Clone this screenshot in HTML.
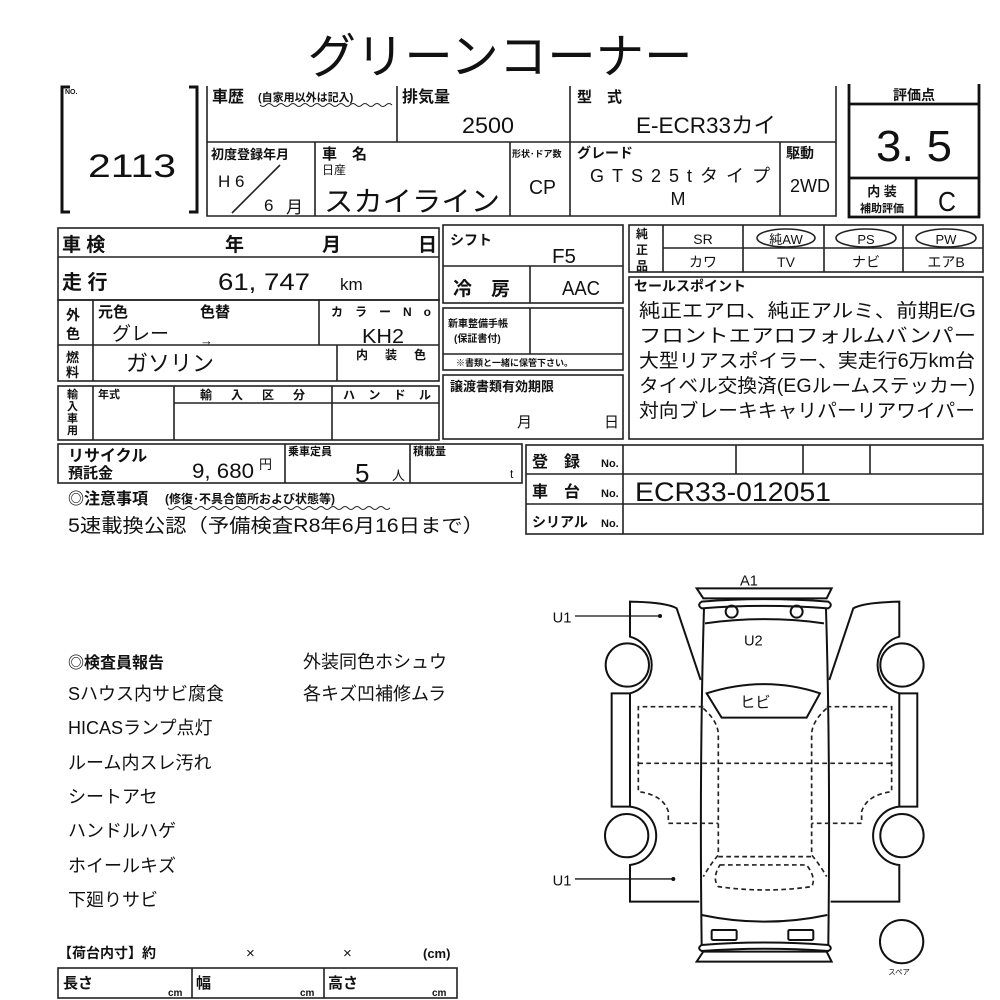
<!DOCTYPE html>
<html><head><meta charset="utf-8"><style>
html,body{margin:0;padding:0;background:#fff;}
svg{display:block;}
text{font-family:"Liberation Sans","Noto Sans CJK JP",sans-serif;fill:#111;}
.b{font-weight:bold;}
</style></head><body>
<svg width="1000" height="1000" viewBox="0 0 1000 1000" xmlns="http://www.w3.org/2000/svg">
<g stroke="#222" fill="none" stroke-width="1.6">
<!-- title -->
</g>
<text x="500" y="73" font-size="48" text-anchor="middle" textLength="385" lengthAdjust="spacingAndGlyphs">グリーンコーナー</text>

<!-- No box -->
<g stroke="#111" fill="none" stroke-width="3">
<path d="M70,87 L62,87 L62,212 L70,212"/>
<path d="M189,87 L197,87 L197,212 L189,212"/>
</g>
<text x="65" y="94" font-size="7" class="b">NO.</text>
<text x="88" y="177" font-size="32" textLength="88" lengthAdjust="spacingAndGlyphs">2113</text>

<!-- top info box -->
<g stroke="#222" fill="none" stroke-width="1.6">
<path d="M207,86 L207,216 L836,216 L836,86"/>
<line x1="207" y1="142" x2="836" y2="142"/>
<line x1="397" y1="86" x2="397" y2="142"/>
<line x1="570" y1="86" x2="570" y2="216"/>
<line x1="315" y1="142" x2="315" y2="216"/>
<line x1="510" y1="142" x2="510" y2="216"/>
<line x1="780" y1="142" x2="780" y2="216"/>
<line x1="232" y1="213" x2="280" y2="165"/>
</g>
<text x="212" y="102" font-size="16" class="b">車歴</text>
<text x="258" y="101" font-size="11" class="b">(自家用以外は記入)</text>
<path d="M260,105 q3,3 6,0 t6,0 t6,0 t6,0 t6,0 t6,0 t6,0 t6,0 t6,0 t6,0 t6,0 t6,0 t6,0 t6,0 t6,0 t6,0 t6,0 t6,0 t6,0 t6,0 t6,0 t6,0" stroke="#222" fill="none" stroke-width="1"/>
<text x="402" y="102" font-size="16" class="b">排気量</text>
<text x="462" y="133" font-size="22" textLength="52" lengthAdjust="spacingAndGlyphs">2500</text>
<text x="577" y="102" font-size="15" class="b">型　式</text>
<text x="636" y="133" font-size="22" textLength="140" lengthAdjust="spacingAndGlyphs">E-ECR33カイ</text>
<text x="211" y="159" font-size="13" class="b">初度登録年月</text>
<text x="218" y="187" font-size="17">H 6</text>
<text x="264" y="211" font-size="17">6</text>
<text x="286" y="213" font-size="17">月</text>
<text x="322" y="159" font-size="15" class="b">車　名</text>
<text x="322" y="174" font-size="12">日産</text>
<text x="324" y="211" font-size="28" textLength="176" lengthAdjust="spacingAndGlyphs">スカイライン</text>
<text x="512" y="157" font-size="9" class="b">形状･ドア数</text>
<text x="529" y="194" font-size="20" textLength="27" lengthAdjust="spacingAndGlyphs">CP</text>
<text x="577" y="158" font-size="14" class="b">グレード</text>
<text x="590" y="182" font-size="18" textLength="180" lengthAdjust="spacing">GTS25tタイプ</text>
<text x="678" y="205" font-size="18" text-anchor="middle">M</text>
<text x="786" y="158" font-size="14" class="b">駆動</text>
<text x="790" y="192" font-size="18" textLength="40" lengthAdjust="spacingAndGlyphs">2WD</text>

<!-- rating box -->
<g stroke="#111" fill="none" stroke-width="2.8">
<path d="M849,84 L849,217 L979,217 L979,84"/>
<line x1="849" y1="104" x2="979" y2="104"/>
<line x1="849" y1="178" x2="979" y2="178"/>
<line x1="916" y1="178" x2="916" y2="217"/>
</g>
<text x="914" y="100" font-size="14" class="b" text-anchor="middle">評価点</text>
<text x="876" y="161" font-size="44" textLength="76" lengthAdjust="spacingAndGlyphs">3. 5</text>
<text x="882" y="196" font-size="13" class="b" text-anchor="middle">内 装</text>
<text x="882" y="212" font-size="11" class="b" text-anchor="middle">補助評価</text>
<text x="947" y="211" font-size="28" text-anchor="middle" textLength="18" lengthAdjust="spacingAndGlyphs">C</text>

<!-- left section -->
<g stroke="#222" fill="none" stroke-width="1.6">
<rect x="58" y="228" width="381" height="72"/>
<line x1="58" y1="257" x2="439" y2="257"/>
<rect x="58" y="300" width="381" height="81"/>
<line x1="58" y1="345" x2="439" y2="345"/>
<line x1="93" y1="300" x2="93" y2="381"/>
<line x1="319" y1="300" x2="319" y2="345"/>
<line x1="337" y1="345" x2="337" y2="381"/>
<rect x="58" y="386" width="381" height="54"/>
<line x1="93" y1="386" x2="93" y2="440"/>
<line x1="174" y1="386" x2="174" y2="440"/>
<line x1="332" y1="386" x2="332" y2="440"/>
<line x1="174" y1="403" x2="439" y2="403"/>
<rect x="58" y="444" width="464" height="39"/>
<line x1="285" y1="444" x2="285" y2="483"/>
<line x1="410" y1="444" x2="410" y2="483"/>
</g>
<text x="62" y="251" font-size="19" class="b">車 検</text>
<text x="225" y="251" font-size="19" class="b">年</text>
<text x="322" y="251" font-size="19" class="b">月</text>
<text x="418" y="251" font-size="19" class="b">日</text>
<text x="62" y="289" font-size="20" class="b">走 行</text>
<text x="218" y="290" font-size="24" textLength="92" lengthAdjust="spacingAndGlyphs">61, 747</text>
<text x="340" y="290" font-size="17">km</text>
<text x="66" y="320" font-size="14" class="b">外</text>
<text x="66" y="339" font-size="14" class="b">色</text>
<text x="98" y="317" font-size="15" class="b">元色</text>
<text x="200" y="317" font-size="15" class="b">色替</text>
<text x="112" y="340" font-size="19">グレー</text>
<text x="200" y="345" font-size="13">→</text>
<text x="331" y="316" font-size="12" class="b" textLength="100" lengthAdjust="spacing">カラーNo</text>
<text x="362" y="343" font-size="20" textLength="42" lengthAdjust="spacingAndGlyphs">KH2</text>
<text x="66" y="362" font-size="13" class="b">燃</text>
<text x="66" y="377" font-size="13" class="b">料</text>
<text x="126" y="371" font-size="22">ガソリン</text>
<text x="356" y="359" font-size="12" class="b" textLength="70" lengthAdjust="spacing">内装色</text>
<text x="67" y="398" font-size="11" class="b">輸</text>
<text x="67" y="410" font-size="11" class="b">入</text>
<text x="67" y="422" font-size="11" class="b">車</text>
<text x="67" y="434" font-size="11" class="b">用</text>
<text x="98" y="398" font-size="11" class="b">年式</text>
<text x="200" y="399" font-size="12" class="b" textLength="105" lengthAdjust="spacing">輸入区分</text>
<text x="343" y="399" font-size="12" class="b" textLength="88" lengthAdjust="spacing">ハンドル</text>
<text x="68" y="461" font-size="16" class="b">リサイクル</text>
<text x="68" y="478" font-size="15" class="b">預託金</text>
<text x="192" y="478" font-size="21" textLength="62" lengthAdjust="spacingAndGlyphs">9, 680</text>
<text x="259" y="469" font-size="13">円</text>
<text x="288" y="455" font-size="11" class="b">乗車定員</text>
<text x="355" y="482" font-size="26">5</text>
<text x="392" y="480" font-size="13">人</text>
<text x="413" y="455" font-size="11" class="b">積載量</text>
<text x="510" y="478" font-size="12">t</text>
<text x="68" y="504" font-size="16" class="b">◎注意事項</text>
<text x="165" y="503" font-size="12" class="b">(修復･不具合箇所および状態等)</text>
<path d="M168,508 q3,3 6,0 t6,0 t6,0 t6,0 t6,0 t6,0 t6,0 t6,0 t6,0 t6,0 t6,0 t6,0 t6,0 t6,0 t6,0 t6,0 t6,0 t6,0 t6,0 t6,0 t6,0 t6,0 t6,0 t6,0 t6,0 t6,0 t6,0 t6,0 t6,0 t6,0 t6,0 t6,0 t6,0 t6,0 t6,0 t6,0 t6,0" stroke="#222" fill="none" stroke-width="1"/>
<text x="68" y="532" font-size="19" textLength="416" lengthAdjust="spacingAndGlyphs">5速載換公認（予備検査R8年6月16日まで）</text>

<!-- right middle -->
<g stroke="#222" fill="none" stroke-width="1.6">
<rect x="443" y="225" width="180" height="78"/>
<line x1="443" y1="266" x2="623" y2="266"/>
<line x1="530" y1="266" x2="530" y2="303"/>
<rect x="443" y="308" width="180" height="62"/>
<line x1="443" y1="354" x2="623" y2="354"/>
<line x1="530" y1="308" x2="530" y2="354"/>
<rect x="443" y="375" width="180" height="64"/>
<rect x="629" y="225" width="354" height="47"/>
<line x1="663" y1="248" x2="983" y2="248"/>
<line x1="663" y1="225" x2="663" y2="272"/>
<line x1="743" y1="225" x2="743" y2="272"/>
<line x1="824" y1="225" x2="824" y2="272"/>
<line x1="903" y1="225" x2="903" y2="272"/>
<rect x="629" y="277" width="354" height="162"/>
<rect x="526" y="445" width="457" height="89"/>
<line x1="526" y1="474" x2="983" y2="474"/>
<line x1="526" y1="504" x2="983" y2="504"/>
<line x1="623" y1="445" x2="623" y2="534"/>
<line x1="736" y1="445" x2="736" y2="474"/>
<line x1="803" y1="445" x2="803" y2="474"/>
<line x1="870" y1="445" x2="870" y2="474"/>
<ellipse cx="786" cy="238" rx="29" ry="9"/>
<ellipse cx="866" cy="238" rx="30" ry="9"/>
<ellipse cx="946" cy="238" rx="30" ry="9"/>
</g>
<text x="450" y="245" font-size="14" class="b">シフト</text>
<text x="552" y="263" font-size="20" textLength="24" lengthAdjust="spacingAndGlyphs">F5</text>
<text x="453" y="295" font-size="19" class="b">冷　房</text>
<text x="562" y="295" font-size="20" textLength="38" lengthAdjust="spacingAndGlyphs">AAC</text>
<text x="448" y="327" font-size="10" class="b">新車整備手帳</text>
<text x="454" y="342" font-size="10" class="b">(保証書付)</text>
<text x="456" y="366" font-size="9" class="b">※書類と一緒に保管下さい。</text>
<text x="450" y="391" font-size="13" class="b">譲渡書類有効期限</text>
<text x="517" y="427" font-size="15">月</text>
<text x="604" y="427" font-size="15">日</text>
<text x="636" y="238" font-size="12" class="b">純</text>
<text x="636" y="254" font-size="12" class="b">正</text>
<text x="636" y="270" font-size="12" class="b">品</text>
<text x="703" y="244" font-size="14" text-anchor="middle">SR</text>
<text x="786" y="244" font-size="13" text-anchor="middle">純AW</text>
<text x="866" y="244" font-size="13" text-anchor="middle">PS</text>
<text x="946" y="244" font-size="13" text-anchor="middle">PW</text>
<text x="703" y="267" font-size="14" text-anchor="middle">カワ</text>
<text x="786" y="267" font-size="14" text-anchor="middle">TV</text>
<text x="866" y="267" font-size="14" text-anchor="middle">ナビ</text>
<text x="946" y="267" font-size="14" text-anchor="middle">エアB</text>
<text x="634" y="291" font-size="14" class="b">セールスポイント</text>
<g font-size="19">
<text x="639" y="317" textLength="337" lengthAdjust="spacingAndGlyphs">純正エアロ、純正アルミ、前期E/G</text>
<text x="639" y="342" textLength="337" lengthAdjust="spacingAndGlyphs">フロントエアロフォルムバンパー</text>
<text x="639" y="367" textLength="336" lengthAdjust="spacingAndGlyphs">大型リアスポイラー、実走行6万km台</text>
<text x="639" y="392" textLength="336" lengthAdjust="spacingAndGlyphs">タイベル交換済(EGルームステッカー)</text>
<text x="639" y="417" textLength="336" lengthAdjust="spacingAndGlyphs">対向ブレーキキャリパーリアワイパー</text>
</g>
<text x="532" y="467" font-size="16" class="b">登　録</text>
<text x="601" y="467" font-size="11" class="b">No.</text>
<text x="532" y="497" font-size="16" class="b">車　台</text>
<text x="601" y="497" font-size="11" class="b">No.</text>
<text x="532" y="527" font-size="14" class="b">シリアル</text>
<text x="601" y="527" font-size="11" class="b">No.</text>
<text x="635" y="501" font-size="27" textLength="196" lengthAdjust="spacingAndGlyphs">ECR33-012051</text>

<!-- inspector report -->
<g font-size="18">
<text x="68" y="668" class="b" font-size="16">◎検査員報告</text>
<text x="68" y="700">Sハウス内サビ腐食</text>
<text x="68" y="734">HICASランプ点灯</text>
<text x="68" y="769">ルーム内スレ汚れ</text>
<text x="68" y="803">シートアセ</text>
<text x="68" y="837">ハンドルハゲ</text>
<text x="68" y="872">ホイールキズ</text>
<text x="68" y="906">下廻りサビ</text>
<text x="303" y="668">外装同色ホシュウ</text>
<text x="303" y="700">各キズ凹補修ムラ</text>
</g>
<text x="58" y="958" font-size="14" class="b">【荷台内寸】約</text>
<text x="246" y="958" font-size="15">×</text>
<text x="343" y="958" font-size="15">×</text>
<text x="423" y="958" font-size="13" class="b">(cm)</text>
<g stroke="#222" fill="none" stroke-width="1.6">
<rect x="58" y="968" width="399" height="30"/>
<line x1="192" y1="968" x2="192" y2="998"/>
<line x1="324" y1="968" x2="324" y2="998"/>
</g>
<text x="63" y="988" font-size="15" class="b">長さ</text>
<text x="168" y="996" font-size="10" class="b">cm</text>
<text x="196" y="988" font-size="15" class="b">幅</text>
<text x="300" y="996" font-size="10" class="b">cm</text>
<text x="328" y="988" font-size="15" class="b">高さ</text>
<text x="432" y="996" font-size="10" class="b">cm</text>

<!-- car diagram in zoom coords -->
<g transform="translate(540,565) scale(0.3333)">
<g stroke="#111" fill="none" stroke-width="6">
<!-- front bumper -->
<path d="M470,70 L875,70 L860,100 L490,100 Z"/>
<path d="M485,110 Q675,95 865,110 Q880,120 865,130 Q675,115 485,130 Q470,120 485,110 Z"/>
<!-- body -->
<path d="M492,130 Q478,600 485,1140"/>
<path d="M858,130 Q872,600 865,1140"/>
<circle cx="575" cy="140" r="18"/>
<circle cx="770" cy="140" r="18"/>
<path d="M495,175 Q675,150 852,175"/>
<!-- windshield -->
<path d="M500,385 Q675,330 840,385 L800,458 L545,458 Z"/>
<!-- rear -->
<path d="M485,1050 Q675,1090 862,1050"/>
<rect x="515" y="1095" width="75" height="30" rx="4"/>
<rect x="745" y="1095" width="75" height="30" rx="4"/>
<path d="M485,1140 Q675,1125 865,1140 Q880,1150 865,1158 Q675,1145 485,1158 Q470,1150 485,1140 Z"/>
<path d="M490,1160 L860,1160 L875,1190 L470,1190 Z"/>
<!-- left side -->
<path d="M482,345 L410,130 Q380,112 270,110 L270,215 A88,88 0 0 1 270,385 L215,385 L215,725 L270,725 A88,88 0 0 1 270,900 L270,1010 L478,1010"/>
<line x1="270" y1="385" x2="270" y2="725"/>
<circle cx="262" cy="300" r="65"/>
<circle cx="260" cy="812" r="65"/>
<!-- right side -->
<path d="M868,345 L940,130 Q970,112 1078,110 L1078,215 A88,88 0 0 0 1078,385 L1132,385 L1132,725 L1078,725 A88,88 0 0 0 1078,900 L1078,1010 L872,1010"/>
<line x1="1078" y1="385" x2="1078" y2="725"/>
<circle cx="1086" cy="300" r="65"/>
<circle cx="1086" cy="812" r="65"/>
<!-- spare -->
<circle cx="1085" cy="1130" r="65"/>
<!-- U1 lines -->
<line x1="105" y1="153" x2="360" y2="153" stroke-width="4"/>
<line x1="105" y1="942" x2="400" y2="942" stroke-width="4"/>
</g>
<circle cx="360" cy="153" r="6" fill="#111"/>
<circle cx="400" cy="942" r="6" fill="#111"/>
<g stroke="#222" fill="none" stroke-width="5" stroke-dasharray="14,10">
<path d="M490,425 L295,425 L295,680 Q370,690 385,740 L385,775 L535,775"/>
<path d="M860,425 L1055,425 L1055,680 Q980,690 965,740 L965,775 L815,775"/>
<line x1="295" y1="595" x2="1055" y2="595"/>
<path d="M490,430 Q535,470 535,510 L535,870 Q510,900 490,935"/>
<path d="M860,430 Q815,470 815,510 L815,870 Q840,900 860,935"/>
<line x1="535" y1="875" x2="815" y2="875"/>
<path d="M540,900 L800,900 Q830,940 815,965 Q675,985 535,965 Q515,940 540,900 Z"/>
</g>
<text x="600" y="62" font-size="44">A1</text>
<text x="38" y="172" font-size="44">U1</text>
<text x="38" y="962" font-size="44">U1</text>
<text x="612" y="242" font-size="44">U2</text>
<text x="600" y="428" font-size="46">ヒビ</text>
<text x="1045" y="1228" font-size="22">スペア</text>
</g>
</svg>
</body></html>
